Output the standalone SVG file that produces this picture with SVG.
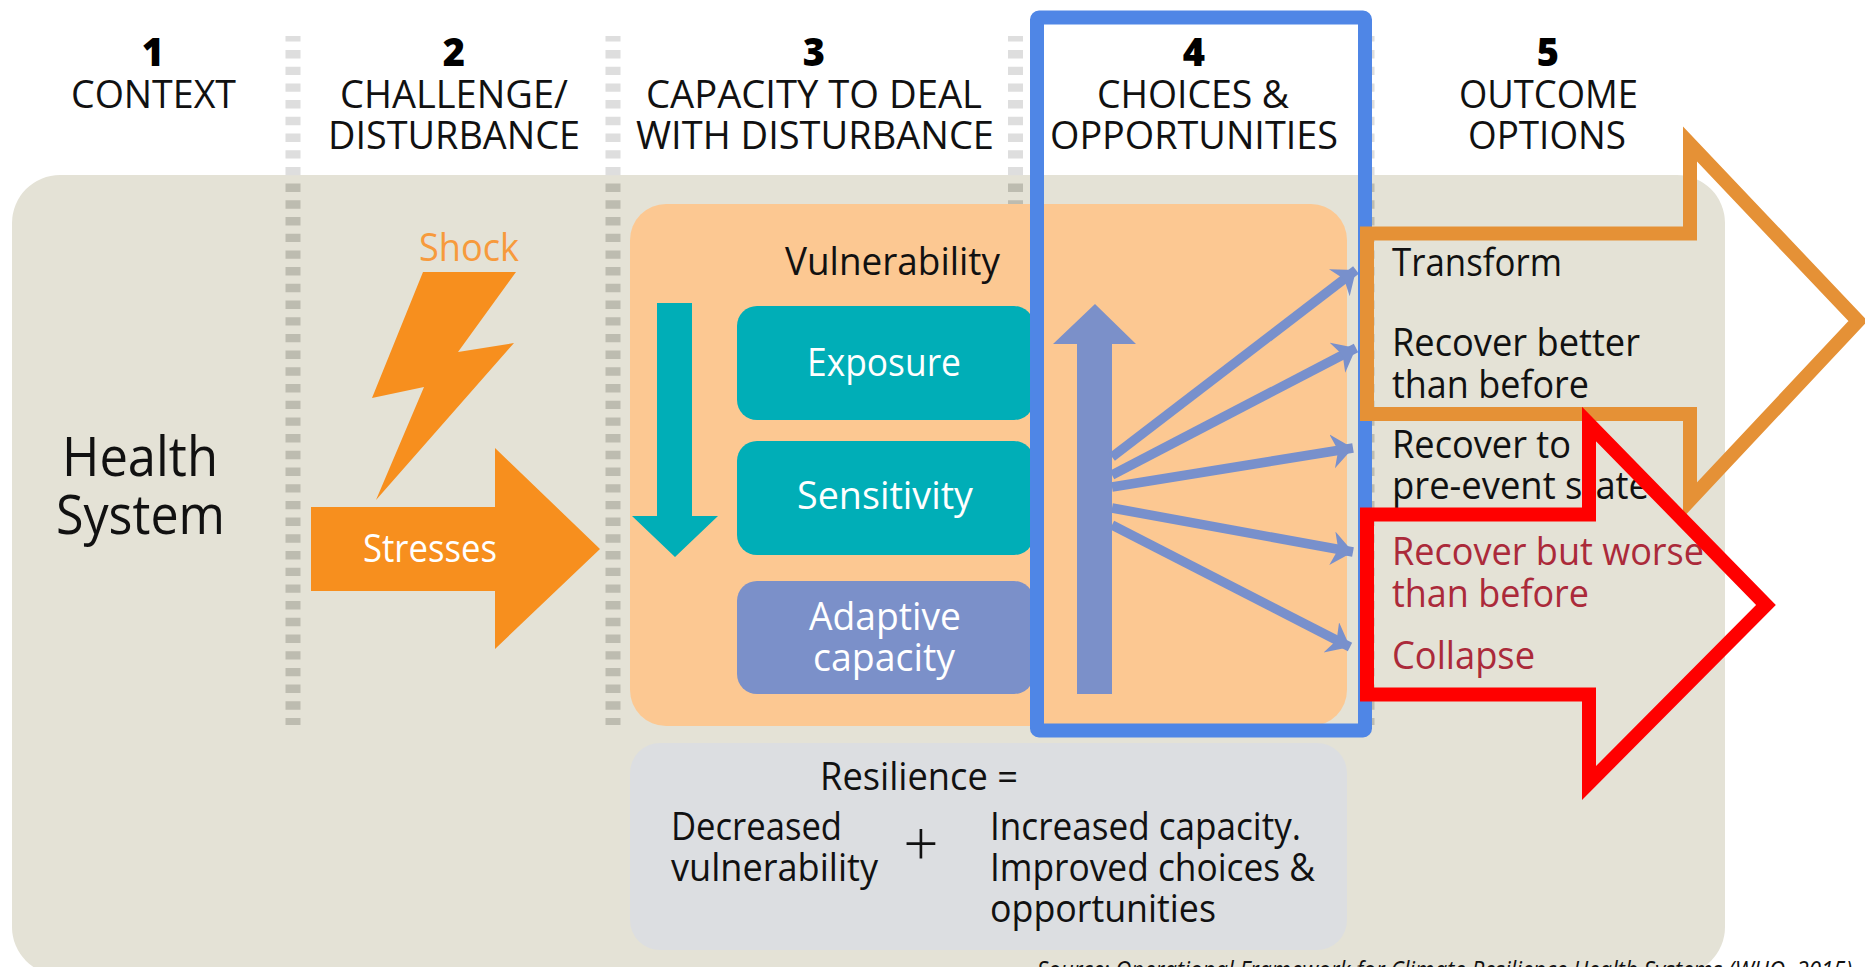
<svg xmlns="http://www.w3.org/2000/svg" width="1865" height="967" viewBox="0 0 1865 967">
<style>
text{font-family:"Open Sans","Noto Sans","Liberation Sans",sans-serif;fill:#111}
.num{font-size:38px;font-weight:800;text-anchor:middle;fill:#000}
.hd{font-size:39px}
.t{font-size:38px}
.w{font-size:38px;fill:#fff}
.r{font-size:38px;fill:#ab2a3a}
.dl{fill:none;stroke:#dedede;stroke-width:15;stroke-dasharray:8.4 8.3}
.dd{fill:none;stroke:#bdbcb0;stroke-width:15;stroke-dasharray:8.4 8.3}
.c{fill:none;stroke:#7890cc;stroke-width:9.5;marker-end:url(#h)}
</style>
<defs>
<marker id="h" markerUnits="userSpaceOnUse" markerWidth="24" markerHeight="36" refX="21" refY="17" orient="auto"><path d="M21,17 L0,0 L6,17 L0,34 Z" fill="#7890cc"/></marker>
</defs>
<rect width="1865" height="967" fill="#fff"/>
<rect id="background" x="12" y="175" width="1713" height="800" rx="48" ry="48" fill="#e4e2d6"/>
<g id="dividers">
<path class="dl" d="M293,36V41.500M293,50V175.300"/><path class="dd" d="M293,183.600V725"/>
<path class="dl" d="M613,36V41.500M613,50V175.300"/><path class="dd" d="M613,183.600V725"/>
<path class="dl" d="M1015.500,36V41.500M1015.500,50V175.300"/><path class="dd" d="M1015.500,183.600V205"/>
<path class="dl" d="M1367,36V41.500M1367,50V175.300"/><path class="dd" d="M1367,183.600V725"/>
</g>
<g id="headers">
<text class="num" x="153" y="66">1</text>
<text class="hd" x="71" y="108" textLength="165" lengthAdjust="spacingAndGlyphs">CONTEXT</text>
<text class="num" x="454" y="66">2</text>
<text class="hd" x="340" y="108" textLength="228" lengthAdjust="spacingAndGlyphs">CHALLENGE/</text>
<text class="hd" x="328" y="149" textLength="252" lengthAdjust="spacingAndGlyphs">DISTURBANCE</text>
<text class="num" x="814" y="66">3</text>
<text class="hd" x="646" y="108" textLength="336" lengthAdjust="spacingAndGlyphs">CAPACITY TO DEAL</text>
<text class="hd" x="636" y="149" textLength="358" lengthAdjust="spacingAndGlyphs">WITH DISTURBANCE</text>
<text class="num" x="1194" y="66">4</text>
<text class="hd" x="1097" y="108" textLength="192" lengthAdjust="spacingAndGlyphs">CHOICES &amp;</text>
<text class="hd" x="1050" y="149" textLength="288" lengthAdjust="spacingAndGlyphs">OPPORTUNITIES</text>
<text class="num" x="1548" y="66">5</text>
<text class="hd" x="1459" y="108" textLength="179" lengthAdjust="spacingAndGlyphs">OUTCOME</text>
<text class="hd" x="1468" y="149" textLength="158" lengthAdjust="spacingAndGlyphs">OPTIONS</text>
</g>
<g id="health-system">
<text x="62" y="476" font-size="55" textLength="156" lengthAdjust="spacingAndGlyphs">Health</text>
<text x="56" y="534" font-size="55" textLength="169" lengthAdjust="spacingAndGlyphs">System</text>
</g>
<g id="shock">
<text x="419" y="261" font-size="39" style="fill:#f79a3c" textLength="100" lengthAdjust="spacingAndGlyphs">Shock</text>
<polygon points="423,272 516,272 458,352 514,343 376,500 424,387 372,398" fill="#f78f1e"/>
</g>
<g id="stresses">
<polygon points="311,507 495,507 495,448 600,549 495,649 495,591 311,591" fill="#f78f1e"/>
<text class="w" x="363" y="562" textLength="134" lengthAdjust="spacingAndGlyphs">Stresses</text>
</g>
<g id="capacity-panel">
<rect x="630" y="204" width="717" height="522" rx="36" fill="#fcc892"/>
<text class="t" x="785" y="275" textLength="215" lengthAdjust="spacingAndGlyphs">Vulnerability</text>
</g>
<g id="vulnerability-arrow"><polygon points="657,303 692,303 692,516 718,516 675,557 632,516 657,516" fill="#00aeb7"/></g>
<g id="exposure"><rect x="737" y="306" width="297" height="114" rx="20" fill="#00aeb7"/>
<text class="w" x="807" y="376" textLength="154" lengthAdjust="spacingAndGlyphs">Exposure</text></g>
<g id="sensitivity"><rect x="737" y="441" width="297" height="114" rx="20" fill="#00aeb7"/>
<text class="w" x="797" y="509" textLength="176" lengthAdjust="spacingAndGlyphs">Sensitivity</text></g>
<g id="adaptive-capacity"><rect x="737" y="581" width="297" height="113" rx="20" fill="#7b90c9"/>
<text class="w" x="809" y="630" textLength="152" lengthAdjust="spacingAndGlyphs">Adaptive</text>
<text class="w" x="813" y="671" textLength="142" lengthAdjust="spacingAndGlyphs">capacity</text></g>
<g id="capacity-arrow"><polygon points="1095,304 1136,344 1112,344 1112,694 1077,694 1077,344 1053,344" fill="#7b90c9"/></g>
<g id="connectors">
<line class="c" x1="1112" y1="457" x2="1356" y2="270"/>
<line class="c" x1="1112" y1="475" x2="1356" y2="348"/>
<line class="c" x1="1112" y1="487" x2="1353" y2="448"/>
<line class="c" x1="1112" y1="508" x2="1353" y2="552"/>
<line class="c" x1="1112" y1="525" x2="1350" y2="647"/>
</g>
<g id="resilience">
<rect x="630" y="743" width="717" height="207" rx="30" fill="#dcdee1"/>
<text class="t" x="820" y="790" textLength="198" lengthAdjust="spacingAndGlyphs">Resilience =</text>
<text class="t" x="671" y="840" textLength="171" lengthAdjust="spacingAndGlyphs">Decreased</text>
<text class="t" x="671" y="881" textLength="207" lengthAdjust="spacingAndGlyphs">vulnerability</text>
<text x="921" y="866" font-size="62" font-weight="300" text-anchor="middle">+</text>
<text class="t" x="990" y="840" textLength="311" lengthAdjust="spacingAndGlyphs">Increased capacity.</text>
<text class="t" x="990" y="881" textLength="325" lengthAdjust="spacingAndGlyphs">Improved choices &amp;</text>
<text class="t" x="990" y="922" textLength="226" lengthAdjust="spacingAndGlyphs">opportunities</text>
</g>
<g id="highlight-choices"><rect x="1037" y="17.500" width="328" height="713" rx="2" fill="none" stroke="#4f86e6" stroke-width="14"/></g>
<g id="outcomes">
<text class="t" x="1392" y="276" textLength="170" lengthAdjust="spacingAndGlyphs">Transform</text>
<text class="t" x="1392" y="356" textLength="248" lengthAdjust="spacingAndGlyphs">Recover better</text>
<text class="t" x="1392" y="398" textLength="197" lengthAdjust="spacingAndGlyphs">than before</text>
<text class="t" x="1392" y="458" textLength="179" lengthAdjust="spacingAndGlyphs">Recover to</text>
<text class="t" x="1392" y="499" textLength="257" lengthAdjust="spacingAndGlyphs">pre-event state</text>
<text class="r" x="1392" y="565" textLength="312" lengthAdjust="spacingAndGlyphs">Recover but worse</text>
<text class="r" x="1392" y="607" textLength="197" lengthAdjust="spacingAndGlyphs">than before</text>
<text class="r" x="1392" y="669" textLength="143" lengthAdjust="spacingAndGlyphs">Collapse</text>
</g>
<g id="highlight-positive"><path d="M1367,233.500H1690V144L1858,321L1690,500V414H1367Z" fill="none" stroke="#e59136" stroke-width="14" stroke-miterlimit="10"/></g>
<g id="highlight-negative"><path d="M1367,514.500H1589V424L1766,605L1589,783V694.500H1367Z" fill="none" stroke="#ff0000" stroke-width="14" stroke-miterlimit="10"/></g>
<text id="source" x="1037" y="979" font-size="25" font-style="italic" textLength="815" lengthAdjust="spacingAndGlyphs">Source: Operational Framework for Climate Resilience Health Systems (WHO, 2015)</text>
</svg>
